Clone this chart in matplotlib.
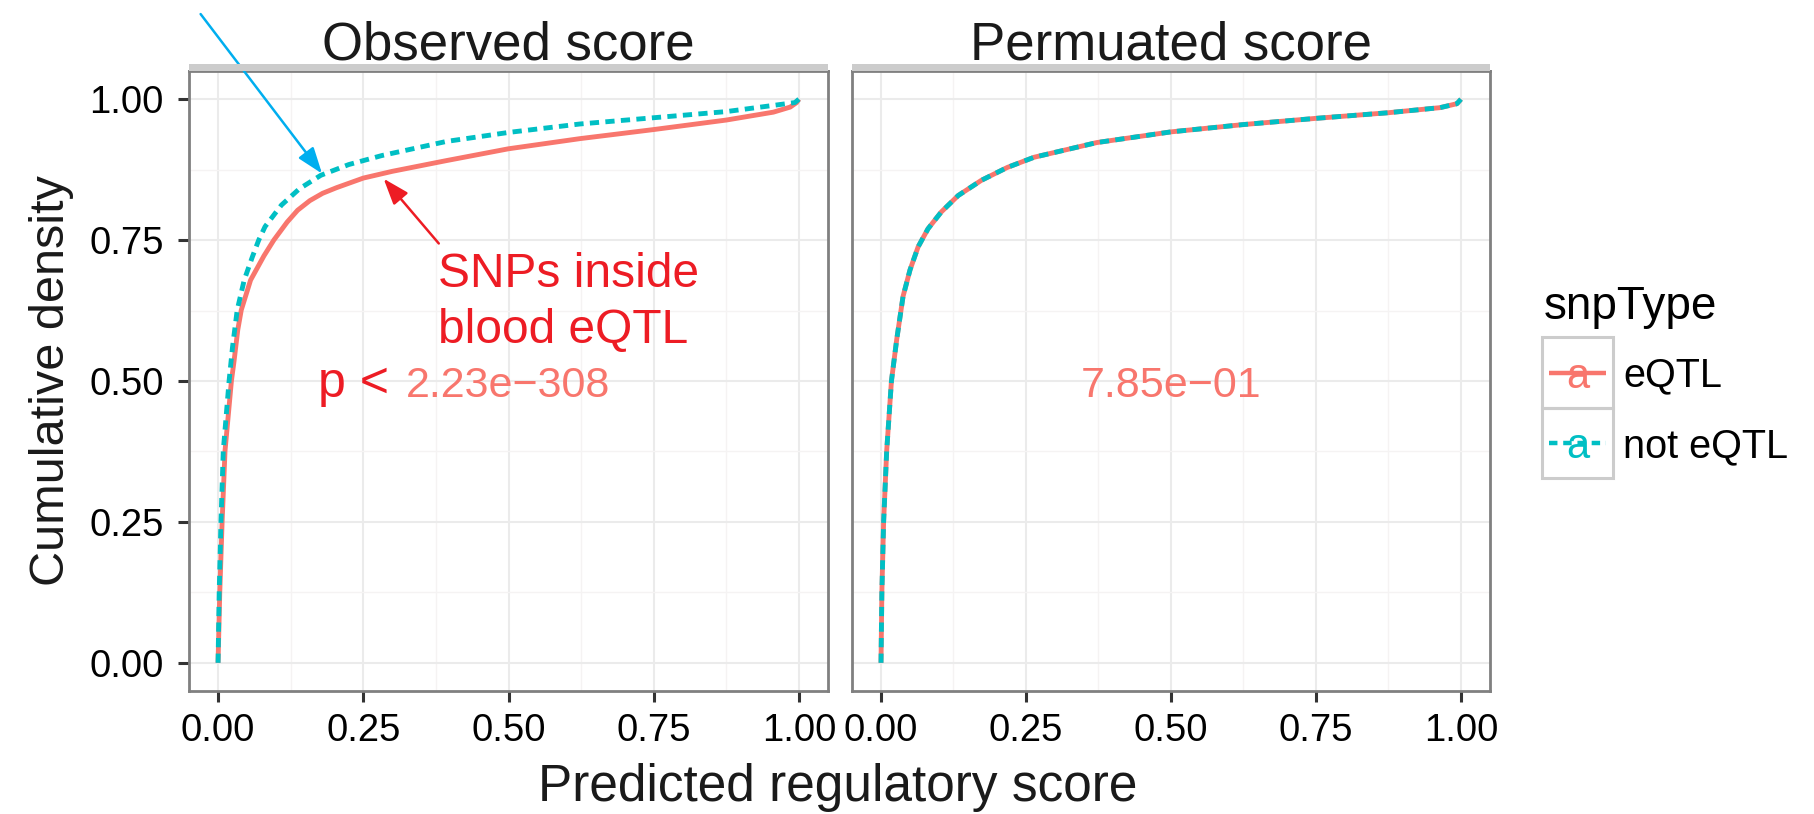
import matplotlib
matplotlib.use("Agg")
import matplotlib.pyplot as plt
from matplotlib.patches import Rectangle

plt.rcParams["font.family"] = ["Liberation Sans", "DejaVu Sans"]

# Labels and categories.
snp_types = ["eQTL", "not eQTL"]
panel_titles = ["Observed score", "Permuated score"]
p_labels = ["2.23e\u2212308", "7.85e\u221201"]
score_ticks = [0, 0.25, 0.5, 0.75, 1.0]
score_labels = ["0.00", "0.25", "0.50", "0.75", "1.00"]
minor_ticks = [0.125, 0.375, 0.625, 0.875]

# Cumulative density curves.
obs_eqtl_x = [0, 0.003, 0.007, 0.012, 0.023, 0.0275, 0.034, 0.040, 0.056,
	0.079, 0.096, 0.119, 0.137, 0.158, 0.180, 0.204, 0.25, 0.30, 0.393, 0.5,
	0.623, 0.749, 0.875, 0.956, 0.985, 0.996, 1.0]
obs_eqtl_y = [0, 0.126, 0.25, 0.376, 0.5, 0.535, 0.591, 0.626, 0.679, 0.722,
	0.75, 0.782, 0.803, 0.820, 0.833, 0.843, 0.860, 0.872, 0.891, 0.912,
	0.930, 0.946, 0.963, 0.977, 0.986, 0.994, 1.0]
obs_not_x = [0, 0.002, 0.005, 0.009, 0.019, 0.025, 0.033, 0.045, 0.059,
	0.070, 0.081, 0.109, 0.140, 0.177, 0.225, 0.282, 0.393, 0.5, 0.623,
	0.749, 0.875, 0.993, 1.0]
obs_not_y = [0, 0.126, 0.25, 0.376, 0.5, 0.561, 0.626, 0.679, 0.720, 0.75,
	0.774, 0.812, 0.841, 0.865, 0.884, 0.900, 0.925, 0.941, 0.956, 0.967,
	0.978, 0.994, 1.0]
perm_eqtl_x = [0, 0.0015, 0.0045, 0.0098, 0.018, 0.027, 0.038, 0.050, 0.064,
	0.081, 0.104, 0.133, 0.173, 0.218, 0.264, 0.372, 0.5, 0.625, 0.75, 0.875,
	0.964, 0.993, 1.0]
perm_eqtl_y = [0, 0.126, 0.25, 0.376, 0.5, 0.573, 0.65, 0.697, 0.738, 0.770,
	0.800, 0.829, 0.856, 0.879, 0.897, 0.923, 0.942, 0.955, 0.966, 0.976,
	0.985, 0.992, 1.0]
perm_not_x = list(perm_eqtl_x)
perm_not_y = list(perm_eqtl_y)

# Colours.
col_eqtl = "#F8766D"
col_not = "#00BFC4"
col_red = "#ED1C24"
col_blue = "#00AEEF"
dash = (0, (1.9, 1.3))

W, H = 1815, 814


def px_rect(x0, y0, x1, y1):
	"""Convert a pixel box (top-left origin) to figure fractions."""
	return [x0 / W, 1 - y1 / H, (x1 - x0) / W, (y1 - y0) / H]


fig = plt.figure(figsize=(W / 100, H / 100), dpi=100)
ax_obs = fig.add_axes(px_rect(189, 71, 828, 691))
ax_perm = fig.add_axes(px_rect(852, 71, 1490, 691))

series = [
	(ax_obs, obs_eqtl_x, obs_eqtl_y, obs_not_x, obs_not_y),
	(ax_perm, perm_eqtl_x, perm_eqtl_y, perm_not_x, perm_not_y),
]

for i, (ax, ex, ey, nx, ny) in enumerate(series):
	ax.plot(ex, ey, color=col_eqtl, lw=3.5, solid_capstyle="butt",
		solid_joinstyle="round")
	ax.plot(nx, ny, color=col_not, lw=3.5, linestyle=dash)
	ax.set_xlim(-0.05, 1.05)
	ax.set_ylim(-0.05, 1.05)
	ax.set_xticks(score_ticks, score_labels)
	ax.set_yticks(score_ticks, score_labels)
	ax.set_xticks(minor_ticks, minor=True)
	ax.set_yticks(minor_ticks, minor=True)
	ax.set_axisbelow(True)
	ax.grid(which="major", color="#EBEBEB", lw=1.5)
	ax.grid(which="minor", color="#F5F3F3", lw=1.0)
	ax.tick_params(which="major", length=8, width=2.2, color="#333333",
		labelsize=27.5, labelcolor="black")
	ax.tick_params(which="minor", length=0)
	ax.tick_params(axis="x", pad=8)
	ax.tick_params(axis="y", pad=10)
	for spine in ax.spines.values():
		spine.set_color("#808080")
		spine.set_linewidth(2.0)
	ax.text(0.5, 0.472, p_labels[i], ha="center", va="baseline",
		color=col_eqtl, fontsize=31)

ax_perm.tick_params(axis="y", left=False, labelleft=False)

# Annotations on the observed panel.
ax_obs.text(0.234, 0.472, "p <", ha="center", va="baseline", color=col_red,
	fontsize=36)
ax_obs.text(0.379, 0.666, "SNPs inside", ha="left", va="baseline",
	color=col_red, fontsize=34.5)
ax_obs.text(0.379, 0.568, "blood eQTL", ha="left", va="baseline",
	color=col_red, fontsize=34.5)
ax_obs.annotate("", xy=(0.285, 0.859), xytext=(0.380, 0.744),
	annotation_clip=False,
	arrowprops=dict(arrowstyle="-|>,head_length=0.53,head_width=0.19",
		color=col_red, lw=1.8, shrinkA=0, shrinkB=0, mutation_scale=30))
ax_obs.annotate("", xy=(0.179, 0.868), xytext=(-0.030, 1.151),
	annotation_clip=False,
	arrowprops=dict(arrowstyle="-|>,head_length=0.53,head_width=0.19",
		color=col_blue, lw=1.8, shrinkA=0, shrinkB=0, mutation_scale=30))

# Overlay in pixel coordinates for strips, titles and legend.
ov = fig.add_axes([0, 0, 1, 1])
ov.set_xlim(0, W)
ov.set_ylim(H, 0)
ov.axis("off")

for (x0, x1), title in zip([(189, 828), (852, 1490)], panel_titles):
	ov.add_patch(Rectangle((x0, 64), x1 - x0, 7, facecolor="#CCCCCC",
		edgecolor="none"))
	ov.text((x0 + x1) / 2, 59, title, ha="center", va="baseline",
		fontsize=38, color="#1A1A1A")

ov.text(838, 801, "Predicted regulatory score", ha="center", va="baseline",
	fontsize=37, color="#1A1A1A")
ov.text(52, 381, "Cumulative density", ha="center", va="center",
	rotation=90, fontsize=35, color="#1A1A1A")

# Legend.
ov.text(1544, 319, "snpType", ha="left", va="baseline", fontsize=33,
	color="black")
key_styles = [(col_eqtl, "-"), (col_not, dash)]
for i, (label, (color, ls)) in enumerate(zip(snp_types, key_styles)):
	top = 337 + i * 70.5
	ov.add_patch(Rectangle((1542, top), 71, 70.5, fill=False,
		edgecolor="#CCCCCC", lw=2.2))
	ov.plot([1549, 1606], [top + 35.7, top + 35.7], color=color, lw=3.2,
		linestyle=ls, solid_capstyle="butt")
	ov.text(1578, top + 51, "a", ha="center", va="baseline", fontsize=30,
		color=color)
	ov.text(1623, top + 49.7, label, ha="left", va="baseline",
		fontsize=28.5, color="black")

fig.savefig("out.png", dpi=100)
plt.close("all")
